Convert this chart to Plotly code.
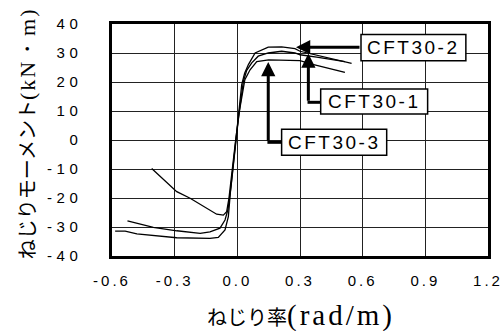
import plotly.graph_objects as go

# ---- data ----
series_names = ["CFT30-1", "CFT30-2", "CFT30-3"]

x_cft30_1 = [-0.526, -0.402, -0.29, -0.178, -0.131, -0.083, -0.059, -0.045, -0.03, -0.01,
             0.006, 0.029, 0.045, 0.069, 0.100, 0.148, 0.212, 0.276, 0.30, 0.38, 0.45, 0.515]
y_cft30_1 = [-27.9, -30.1, -31.3, -32.2, -31.7, -30.4, -27.6, -24.0, -16.0, -3.0,
             8.0, 20.2, 24.0, 26.6, 28.9, 30.0, 30.6, 30.0, 29.4, 28.6, 27.8, 27.0]

x_cft30_2 = [-0.585, -0.537, -0.481, -0.29, -0.131, -0.091, -0.059, -0.043, -0.032, -0.012,
             0.004, 0.021, 0.035, 0.053, 0.085, 0.117, 0.148, 0.212, 0.276, 0.300, 0.40, 0.547]
y_cft30_2 = [-31.4, -31.4, -32.4, -33.7, -33.9, -33.6, -31.0, -26.4, -17.0, -3.0,
             7.0, 19.1, 23.0, 26.0, 30.0, 31.1, 32.0, 32.1, 31.5, 30.6, 28.9, 26.4]

x_cft30_3 = [-0.41, -0.29, -0.226, -0.099, -0.067, -0.051, -0.04, -0.025, -0.008, 0.01,
             0.036, 0.061, 0.093, 0.15, 0.22, 0.30, 0.356, 0.435, 0.515]
y_cft30_3 = [-9.8, -17.8, -20.1, -25.6, -25.9, -24.7, -20.0, -10.0, 0.0, 10.0,
             20.8, 24.2, 27.0, 27.6, 27.6, 27.4, 26.2, 24.8, 23.3]

x_tickvals = [-0.6, -0.3, 0.0, 0.3, 0.6, 0.9, 1.2]
x_ticklabels = ["-0.6", "-0.3", "0.0", "0.3", "0.6", "0.9", "1.2"]
y_tickvals = [-40, -30, -20, -10, 0, 10, 20, 30, 40]
y_ticklabels = ["-40", "-30", "-20", "-10", "0", "10", "20", "30", "40"]

x_title_jp = "ねじり率"
x_title_unit = "(rad/m)"
y_title_jp = "ねじりモーメント"
y_title_unit = "(kN・m)"

SANS = "Liberation Sans, Arial, sans-serif"
JP = "Noto Sans CJK JP, sans-serif"


def spaced(t, px):
    return f'<span style="letter-spacing:{px}px">{t}</span>'


fig = go.Figure()
for xs, ys in [(x_cft30_1, y_cft30_1), (x_cft30_2, y_cft30_2), (x_cft30_3, y_cft30_3)]:
    fig.add_trace(go.Scatter(x=xs, y=ys, mode="lines",
                             line=dict(color="black", width=1.3),
                             showlegend=False, hoverinfo="skip"))

# label boxes and arrows: (name, box x0, x1, y0, y1, corner x, corner y, tip x, tip y)
labels = [
    ("CFT30-2", 0.592, 1.094, 27.3, 36.4, None, 32.0, 0.281, 32.0),
    ("CFT30-1", 0.399, 0.911, 8.97, 17.6, 0.340, 13.0, 0.340, 29.8),
    ("CFT30-3", 0.212, 0.715, -5.28, 3.69, 0.148, -0.8, 0.148, 26.9),
]
for name, bx0, bx1, by0, by1, cx, cy, tx, ty in labels:
    fig.add_shape(type="rect", xref="x", yref="y", x0=bx0, x1=bx1, y0=by0, y1=by1,
                  line=dict(color="black", width=1.5), fillcolor="white", layer="above")
    fig.add_annotation(x=(bx0 + bx1) / 2, y=(by0 + by1) / 2, xref="x", yref="y",
                       text=spaced(name, 2.5), showarrow=False,
                       font=dict(family=SANS, size=19, color="black"))
    if cx is None:
        tail_x = bx0
    else:
        fig.add_shape(type="line", xref="x", yref="y", x0=bx0, x1=cx - 0.004, y0=cy, y1=cy,
                      line=dict(color="black", width=3), layer="above")
        tail_x = cx
    fig.add_annotation(x=tx, y=ty, ax=tail_x, ay=cy, xref="x", yref="y",
                       axref="x", ayref="y", text="", showarrow=True,
                       arrowhead=2, arrowsize=0.95, arrowwidth=3, arrowcolor="black")

# axis titles
fig.add_annotation(xref="paper", yref="paper", x=0.503, y=-0.255,
                   text=(f'{x_title_jp}<span style="font-family:Liberation Serif;font-size:29px;'
                         f'letter-spacing:3px">{x_title_unit}</span>'),
                   showarrow=False, xanchor="center", yanchor="middle",
                   font=dict(family=JP, size=20, color="black"))
fig.add_annotation(xref="paper", yref="paper", x=-0.228, y=0.53, textangle=-90,
                   text=(f'{y_title_jp}<span style="font-family:Liberation Serif;font-size:22px;'
                         f'letter-spacing:2px">{y_title_unit}</span>'),
                   showarrow=False, xanchor="center", yanchor="middle",
                   font=dict(family=JP, size=20, color="black"))

axis_common = dict(showline=True, mirror=True, linecolor="black", linewidth=2.5,
                   showgrid=True, gridcolor="#222", gridwidth=1,
                   zeroline=False, ticks="", ticklabeloverflow="allow",
                   tickfont=dict(family=SANS, size=15, color="black"))

fig.update_xaxes(range=[-0.6, 1.2], tickmode="array", tickvals=x_tickvals,
                 ticktext=[spaced(t, 3) for t in x_ticklabels], ticklabelstandoff=9,
                 **axis_common)
fig.update_yaxes(range=[-40, 40], tickmode="array", tickvals=y_tickvals,
                 ticktext=[spaced(t, 4.5) for t in y_ticklabels], ticklabelstandoff=24,
                 **axis_common)

fig.update_layout(width=502, height=331, margin=dict(l=112, r=14, t=24, b=75, autoexpand=False),
                  paper_bgcolor="white", plot_bgcolor="white", showlegend=False)

fig.write_html("out.html", config={"displayModeBar": False})
